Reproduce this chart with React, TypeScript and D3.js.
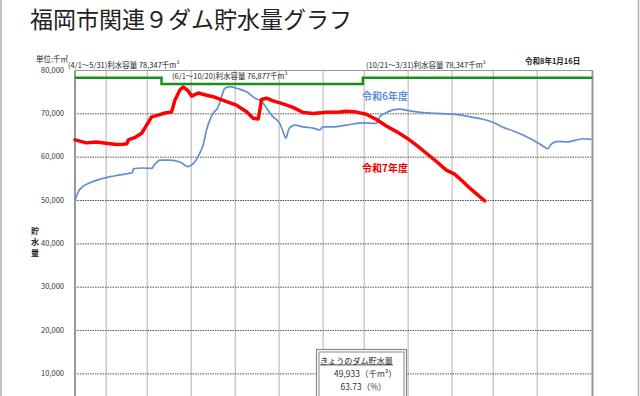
import React, { useEffect, useRef } from 'react';
import * as d3 from 'd3';

// days counted from 4/1
const r7Days = [0, 8, 15, 22, 29, 34, 36.6, 37.6, 42, 47, 50.5, 54, 58.7, 63.4, 68.1, 70.5, 74, 76.3, 79.8, 82.2, 86.9, 92.8, 97.4, 106.9, 113.9, 121, 125.6, 129.2, 130.4, 131.5, 135.1, 139.7, 146.8, 153.8, 160.9, 167.9, 177.4, 186.7, 191.4, 198.5, 205.5, 212.6, 219.6, 226.7, 233.7, 240.8, 247.8, 254.9, 261.9, 267.7, 273.6, 278.3, 284, 289];
const r7Values = [64000, 63300, 63500, 63200, 62900, 63000, 63100, 64000, 64500, 65500, 67400, 69300, 69700, 70200, 70400, 73200, 75500, 76200, 75300, 74100, 74800, 74300, 73950, 72800, 72000, 70500, 69000, 68800, 70900, 73300, 73600, 73000, 72300, 71500, 70300, 70100, 70350, 70400, 70600, 70400, 69900, 68700, 67200, 65900, 64500, 62800, 60900, 59000, 57000, 56100, 54400, 52900, 51300, 49933];

const r6Days = [0, 2.3, 5.8, 10.6, 17.6, 24.7, 31.7, 38.8, 40.5, 41.1, 47, 54, 56.4, 59.9, 66.9, 74, 79.8, 82.2, 85.8, 88.1, 90.4, 92.8, 95.1, 97.4, 101, 103.4, 105.7, 109.2, 113.9, 121, 128, 131.5, 135.1, 139.7, 144.4, 146.8, 148.7, 151, 155, 160.9, 167.9, 172.6, 175, 182, 191.4, 203.1, 212.6, 214.9, 218.4, 224.3, 229, 236, 245.4, 254.9, 264.2, 273.6, 280.6, 287.7, 294.7, 301.8, 308.8, 315.9, 322.9, 330, 333.5, 335.9, 340.5, 346.5, 353.5, 358.2, 364.3];
const r6Values = [50000, 52000, 53300, 54100, 54900, 55500, 55900, 56300, 56400, 57300, 57500, 57400, 58400, 59300, 59300, 58900, 57800, 58200, 59500, 61000, 62800, 66300, 68600, 70100, 71600, 74000, 75900, 76300, 75900, 75100, 73400, 73000, 71300, 69300, 67800, 65900, 64400, 66600, 67400, 67000, 66700, 66300, 67000, 67000, 67400, 67900, 67800, 69300, 70100, 70900, 71100, 70700, 70300, 70100, 69950, 69650, 69200, 68750, 68050, 66900, 66100, 65100, 63950, 62600, 61950, 63000, 63650, 63500, 63950, 64250, 64100];

const capDays = [0, 61, 203, 365];
const capValues = [78347, 76877, 78347, 78347];

const gridDays = [22, 51, 82, 113, 144, 175, 204, 235, 266, 295, 326];
const yTicks = [10000, 20000, 30000, 40000, 50000, 60000, 70000, 80000];

const FONT = '"Noto Sans CJK JP", "Noto Sans", sans-serif';

export default function App() {
  const svgRef = useRef<SVGSVGElement>(null);

  useEffect(() => {
    if (!svgRef.current) return;
    const svg = d3.select(svgRef.current);
    svg.selectAll('*').remove();
    svg.style('font-family', FONT);

    const x = d3.scaleLinear().domain([0, 365]).range([75, 592.5]);
    const y = d3.scaleLinear().domain([0, 80000]).range([417.2, 70.5]);

    svg.append('rect').attr('width', 640).attr('height', 396).attr('fill', '#fff');

    // outer frame
    svg.append('line').attr('x1', 1).attr('x2', 1).attr('y1', 0).attr('y2', 396)
      .attr('stroke', '#b0b0b0').attr('stroke-width', 1.5);
    svg.append('line').attr('x1', 638.5).attr('x2', 638.5).attr('y1', 0).attr('y2', 396)
      .attr('stroke', '#b0b0b0').attr('stroke-width', 1.5);

    svg.append('text').attr('x', 30).attr('y', 28)
      .style('font-size', '23px').style('fill', '#222')
      .text('福岡市関連９ダム貯水量グラフ');

    // vertical grid
    svg.append('g').selectAll('line').data(gridDays).enter().append('line')
      .attr('x1', d => x(d)).attr('x2', d => x(d))
      .attr('y1', y(80000)).attr('y2', 396)
      .attr('stroke', '#c4c4c4').attr('stroke-width', 1.3);

    // horizontal grid
    svg.append('g').selectAll('line').data(yTicks.filter(t => t < 80000)).enter().append('line')
      .attr('x1', x(0)).attr('x2', x(365))
      .attr('y1', d => y(d)).attr('y2', d => y(d))
      .attr('stroke', '#555').attr('stroke-width', 1)
      .attr('stroke-dasharray', '1.5,1');

    // frame
    svg.append('line').attr('x1', x(0)).attr('x2', x(365)).attr('y1', y(80000)).attr('y2', y(80000))
      .attr('stroke', '#999').attr('stroke-width', 1.2);
    svg.append('line').attr('x1', x(0)).attr('x2', x(0)).attr('y1', y(80000)).attr('y2', 396)
      .attr('stroke', '#999').attr('stroke-width', 2);
    svg.append('line').attr('x1', x(365)).attr('x2', x(365)).attr('y1', y(80000)).attr('y2', 396)
      .attr('stroke', '#999').attr('stroke-width', 2);

    // y tick labels
    svg.append('g').selectAll('text').data(yTicks).enter().append('text')
      .attr('x', 64).attr('y', d => y(d)).attr('text-anchor', 'end')
      .attr('dominant-baseline', 'middle')
      .style('font-size', '7.5px').style('fill', '#333')
      .text(d => d3.format(',')(d));

    const small = (tx: number, ty: number, s: string, weight = 'normal') =>
      svg.append('text').attr('x', tx).attr('y', ty).attr('dominant-baseline', 'middle')
        .style('font-size', '7.5px').style('fill', '#222').style('font-weight', weight).text(s);

    small(36, 60, '単位:千㎥');
    small(68, 65.5, '(4/1～5/31)利水容量 78,347千m³');
    small(172, 77, '(6/1～10/20)利水容量 76,877千m³');
    small(366, 66, '(10/21～3/31)利水容量 78,347千m³');
    small(525, 61.5, '令和8年1月16日', 'bold');

    const vl = svg.append('text').attr('x', 35).attr('text-anchor', 'middle')
      .style('font-size', '8px').style('fill', '#222').style('font-weight', 'bold');
    ['貯', '水', '量'].forEach((c, i) => {
      vl.append('tspan').attr('x', 35).attr('y', 234 + i * 11).text(c);
    });

    const line = d3.line<[number, number]>().x(d => x(d[0])).y(d => y(d[1]));

    // capacity
    svg.append('path')
      .datum(capDays.map((d, i) => [d, capValues[i]] as [number, number]))
      .attr('d', d3.line<[number, number]>().x(d => x(d[0])).y(d => y(d[1])).curve(d3.curveStepAfter))
      .attr('fill', 'none').attr('stroke', '#1a8f1a').attr('stroke-width', 2.5);

    svg.append('path')
      .datum(r6Days.map((d, i) => [d, r6Values[i]] as [number, number]))
      .attr('d', line.curve(d3.curveMonotoneX))
      .attr('fill', 'none').attr('stroke', '#6090d4').attr('stroke-width', 1.7)
      .attr('stroke-linejoin', 'round');

    svg.append('path')
      .datum(r7Days.map((d, i) => [d, r7Values[i]] as [number, number]))
      .attr('d', line.curve(d3.curveLinear))
      .attr('fill', 'none').attr('stroke', '#ff0000').attr('stroke-width', 3.5)
      .attr('stroke-linejoin', 'round').attr('stroke-linecap', 'round');

    svg.append('text').attr('x', 362).attr('y', 97).attr('dominant-baseline', 'middle')
      .style('font-size', '10px').style('font-weight', 'bold').style('fill', '#5f8fd0')
      .text('令和6年度');
    svg.append('text').attr('x', 362).attr('y', 169.5).attr('dominant-baseline', 'middle')
      .style('font-size', '10px').style('font-weight', 'bold').style('fill', '#f00000')
      .text('令和7年度');

    // today box
    const bx = 316.5, by = 349.5, bw = 90;
    svg.append('rect').attr('x', bx).attr('y', by).attr('width', bw).attr('height', 60)
      .attr('fill', '#fff').attr('stroke', '#888').attr('stroke-width', 1.2);
    svg.append('rect').attr('x', bx + 2.5).attr('y', by + 2.5).attr('width', bw - 5).attr('height', 60)
      .attr('fill', '#fff').attr('stroke', '#888').attr('stroke-width', 1);
    svg.append('text').attr('x', 320).attr('y', 363.5)
      .style('font-size', '8.1px').style('fill', '#222').style('text-decoration', 'underline')
      .text('きょうのダム貯水量');
    svg.append('text').attr('x', 334).attr('y', 376.5)
      .style('font-size', '8.5px').style('fill', '#333')
      .text('49,933（千m³）');
    svg.append('text').attr('x', 340.5).attr('y', 390)
      .style('font-size', '8.5px').style('fill', '#333')
      .text('63.73（%）');
  }, []);

  return (
    <svg ref={svgRef} width={640} height={396}
      style={{ position: 'absolute', left: 0, top: 0, display: 'block' }} />
  );
}
